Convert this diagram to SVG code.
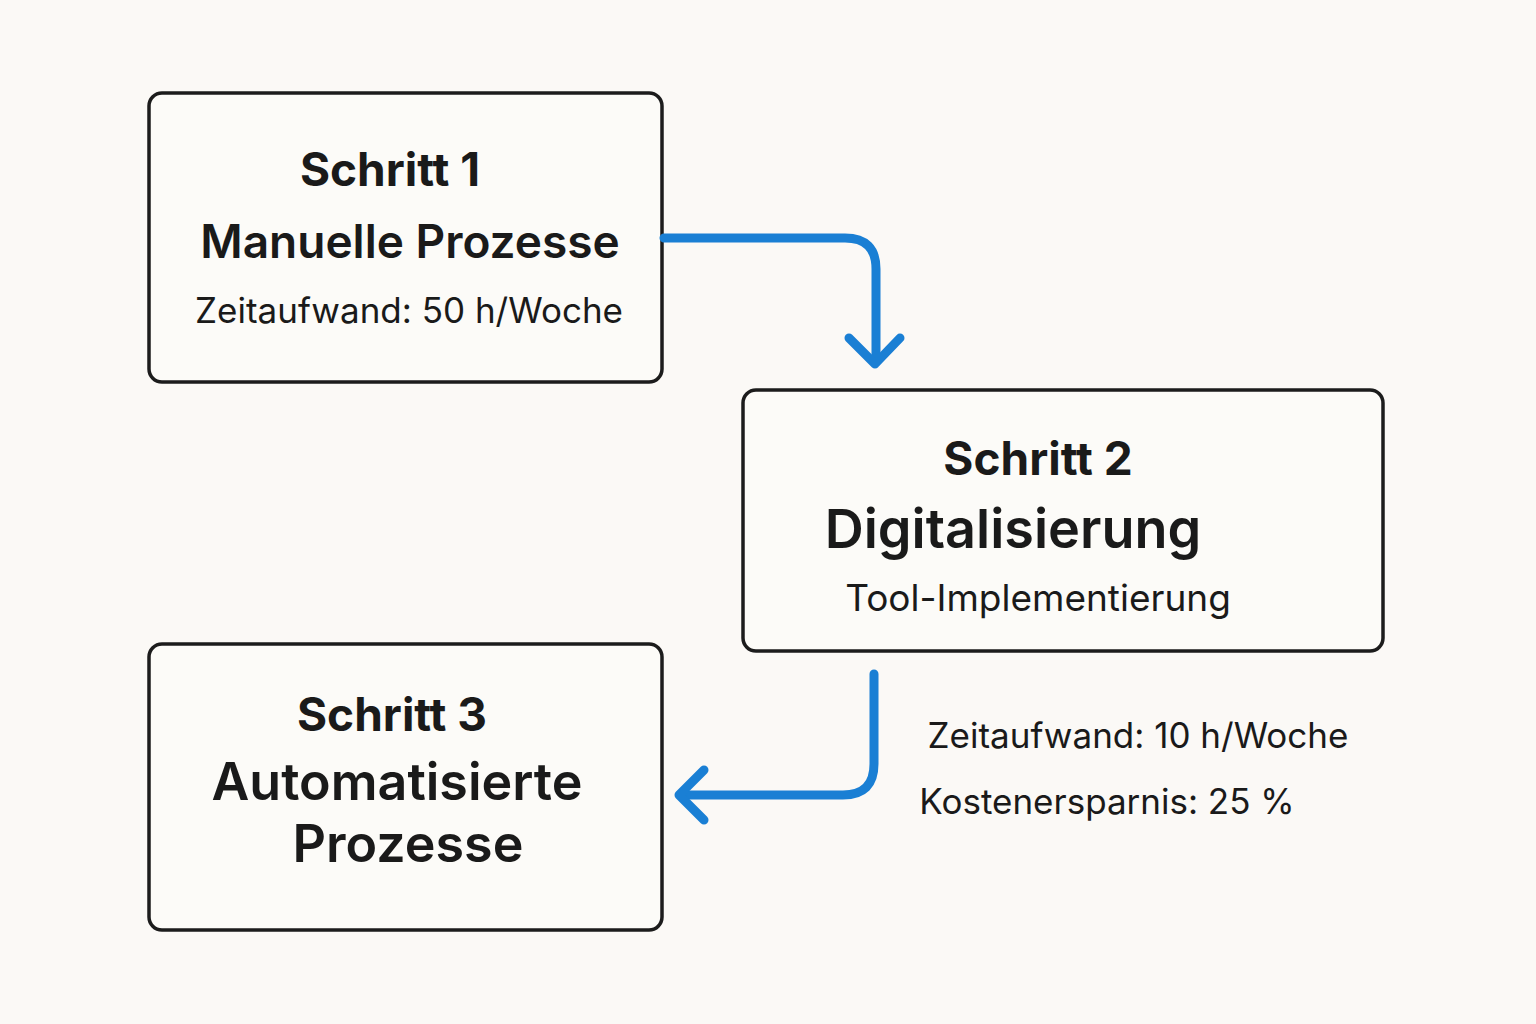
<svg xmlns="http://www.w3.org/2000/svg" width="1536" height="1024" viewBox="0 0 1536 1024">
<style>
.box{fill:#fcfbf8;stroke:#1c1c1c;stroke-width:3.5}
text{font-family:Inter,"Noto Sans","Liberation Sans",sans-serif;fill:#1a1a1a;text-anchor:middle}
.h{font-weight:700;font-size:46px}
.t{font-weight:600;font-size:46px}
.s{font-weight:400;font-size:35px}
.c{fill:none;stroke:#1a7fd4;stroke-width:9;stroke-linecap:round;stroke-linejoin:round}
</style>
<rect width="1536" height="1024" fill="#fbf9f6"/>
<g id="step1">
<rect class="box" x="149" y="93" width="513" height="289" rx="13"/>
<text class="h" x="390" y="186">Schritt 1</text>
<text class="t" x="410" y="258">Manuelle Prozesse</text>
<text class="s" x="409" y="323">Zeitaufwand: 50 h/Woche</text>
</g>
<g id="step2">
<rect class="box" x="743" y="390" width="640" height="261" rx="13"/>
<text class="h" x="1038" y="475">Schritt 2</text>
<text class="t" x="1013" y="548" style="font-size:54px">Digitalisierung</text>
<text class="s" x="1038" y="611" style="font-size:37px">Tool-Implementierung</text>
</g>
<g id="step3">
<rect class="box" x="149" y="644" width="513" height="286" rx="13"/>
<text class="h" x="392" y="731">Schritt 3</text>
<text class="t" x="397" y="800" style="font-size:52px">Automatisierte</text>
<text class="t" x="408" y="862" style="font-size:52px">Prozesse</text>
</g>
<g id="labels">
<text class="s" x="1138" y="748">Zeitaufwand: 10 h/Woche</text>
<text class="s" x="1107" y="814">Kostenersparnis: 25 %</text>
</g>
<g id="connectors">
<path class="c" d="M664 238 H845 Q876 238 876 269 V362"/>
<path class="c" d="M849 338 L875 364 L900 338"/>
<path class="c" d="M874 674 V764 Q874 795 843 795 H682"/>
<path class="c" d="M704 770 L679 795 L704 820"/>
</g>
</svg>
